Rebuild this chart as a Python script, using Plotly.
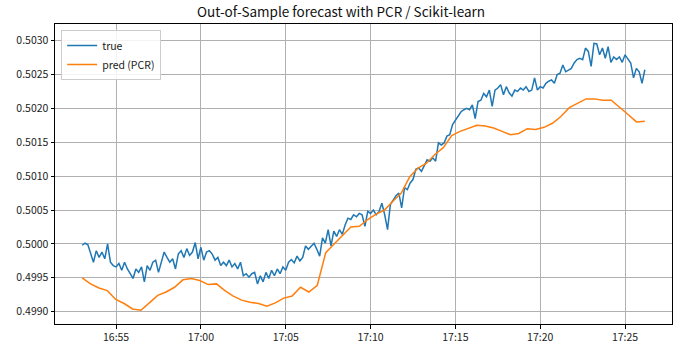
import pandas as pd
import plotly.graph_objects as go

start_time = "2020-01-01 16:53:00"
end_time = "2020-01-01 17:26:10"

true_vals = [
    0.49998, 0.50001, 0.49999, 0.49985, 0.49973, 0.49990, 0.49980, 0.49988, 0.49978, 0.50000,
    0.49973, 0.49968, 0.49966, 0.49971, 0.49961, 0.49973, 0.49963, 0.49956, 0.49949, 0.49963,
    0.49958, 0.49966, 0.49944, 0.49968, 0.49961, 0.49973, 0.49976, 0.49958, 0.49973, 0.49988,
    0.49980, 0.49973, 0.49978, 0.49963, 0.49985, 0.49990, 0.49980, 0.49993, 0.49983, 0.49988,
    0.50002, 0.49978, 0.49995, 0.49976, 0.49988, 0.49990, 0.49985, 0.49976, 0.49980, 0.49968,
    0.49973, 0.49968, 0.49976, 0.49966, 0.49971, 0.49963, 0.49973, 0.49953, 0.49956, 0.49951,
    0.49956, 0.49958, 0.49941, 0.49953, 0.49944, 0.49958, 0.49949, 0.49961, 0.49953, 0.49963,
    0.49956, 0.49966, 0.49961, 0.49973, 0.49977, 0.49972, 0.49982, 0.49975, 0.49980, 0.49997,
    0.49992, 0.49997, 0.50001, 0.49992, 0.49982, 0.50009, 0.50001, 0.50021, 0.49997, 0.50019,
    0.50011, 0.50021, 0.50014, 0.50028, 0.50038, 0.50036, 0.50043, 0.50040, 0.50045, 0.50043,
    0.50026, 0.50048, 0.50045, 0.50050, 0.50043, 0.50048, 0.50060, 0.50043, 0.50021, 0.50058,
    0.50065, 0.50071, 0.50075, 0.50053, 0.50083, 0.50080, 0.50090, 0.50095, 0.50110, 0.50112,
    0.50107, 0.50115, 0.50124, 0.50122, 0.50127, 0.50122, 0.50149, 0.50146, 0.50149, 0.50159,
    0.50161, 0.50176, 0.50183, 0.50190, 0.50195, 0.50198, 0.50200, 0.50198, 0.50205, 0.50185,
    0.50210, 0.50212, 0.50222, 0.50217, 0.50227, 0.50203, 0.50227, 0.50230, 0.50235, 0.50220,
    0.50232, 0.50223, 0.50218, 0.50227, 0.50225, 0.50230, 0.50227, 0.50232, 0.50225, 0.50227,
    0.50245, 0.50227, 0.50232, 0.50230, 0.50237, 0.50240, 0.50242, 0.50237, 0.50250, 0.50252,
    0.50264, 0.50254, 0.50257, 0.50259, 0.50267, 0.50272, 0.50274, 0.50272, 0.50289, 0.50284,
    0.50262, 0.50296, 0.50295, 0.50279, 0.50289, 0.50274, 0.50291, 0.50268, 0.50276, 0.50272,
    0.50276, 0.50268, 0.50279, 0.50272, 0.50267, 0.50245, 0.50259, 0.50254, 0.50237, 0.50257,
]

pred_vals = [
    0.49950, 0.49941, 0.49935, 0.49931, 0.49918, 0.49912, 0.49904, 0.49902, 0.49913, 0.49924,
    0.49929, 0.49936, 0.49947, 0.49949, 0.49946, 0.49940, 0.49941, 0.49931, 0.49923, 0.49917,
    0.49914, 0.49912, 0.49908, 0.49913, 0.49920, 0.49923, 0.49936, 0.49929, 0.49939, 0.49987,
    0.50000, 0.50013, 0.50025, 0.50026, 0.50036, 0.50044, 0.50050, 0.50063, 0.50075, 0.50099,
    0.50112, 0.50119, 0.50132, 0.50142, 0.50160, 0.50166, 0.50170, 0.50175, 0.50174, 0.50171,
    0.50166, 0.50161, 0.50163, 0.50170, 0.50169, 0.50172, 0.50178, 0.50188, 0.50201, 0.50208,
    0.50214, 0.50214, 0.50212, 0.50212, 0.50202, 0.50191, 0.50180, 0.50181,
]

t_true = pd.date_range(start_time, end_time, periods=len(true_vals))
t_pred = pd.date_range(start_time, end_time, periods=len(pred_vals))

title_text = "Out-of-Sample forecast with PCR / Scikit-learn"
font_family = "Noto Sans CJK JP"

fig = go.Figure()
fig.add_trace(go.Scatter(x=t_true, y=true_vals, mode="lines", name="true",
                         line=dict(color="#1f77b4", width=1.5)))
fig.add_trace(go.Scatter(x=t_pred, y=pred_vals, mode="lines", name="pred (PCR)",
                         line=dict(color="#ff7f0e", width=1.5)))

fig.update_layout(
    width=682, height=353,
    margin=dict(l=55, r=9, t=24, b=27),
    paper_bgcolor="white", plot_bgcolor="white",
    font=dict(family=font_family, size=10.5, color="#222222"),
    title=dict(text=title_text, x=0.5, xanchor="center", y=0.965, yanchor="middle",
               font=dict(size=13.5, color="#111111")),
    showlegend=True,
    legend=dict(x=0.01, y=0.98, xanchor="left", yanchor="top",
                bgcolor="rgba(255,255,255,0.85)", bordercolor="#cccccc", borderwidth=1,
                font=dict(size=10.5), itemwidth=30, tracegroupgap=0),
)
fig.update_xaxes(
    type="date",
    range=["2020-01-01 16:51:24", "2020-01-01 17:27:46"],
    tickformat="%H:%M", dtick=5 * 60 * 1000,
    tick0="2020-01-01 16:55:00",
    showgrid=True, gridcolor="#b0b0b0", gridwidth=0.8,
    showline=True, linecolor="black", linewidth=1, mirror=True,
    ticks="outside", ticklen=3.5, tickcolor="black",
    zeroline=False,
)
fig.update_yaxes(
    range=[0.498818, 0.503245],
    tickformat=".4f", dtick=0.0005, tick0=0.499,
    showgrid=True, gridcolor="#b0b0b0", gridwidth=0.8,
    showline=True, linecolor="black", linewidth=1, mirror=True,
    ticks="outside", ticklen=3.5, tickcolor="black",
    zeroline=False,
)

fig.write_html("out.html")
